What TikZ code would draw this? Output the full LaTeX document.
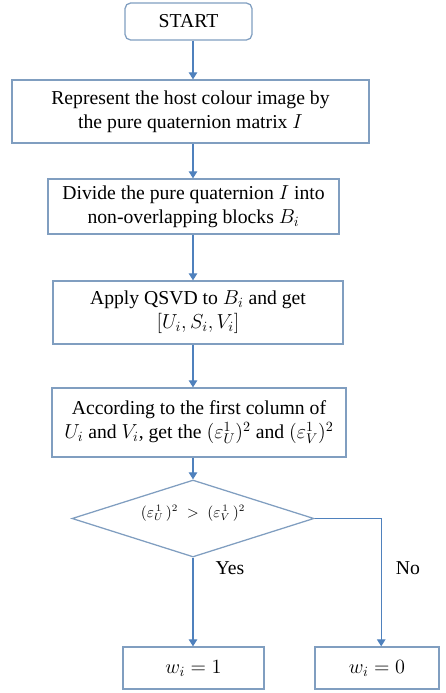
\documentclass[tikz,border=0pt]{standalone}
\usepackage{fontspec}
\setmainfont{Liberation Serif}
\usetikzlibrary{shapes.geometric,arrows.meta}
\newcommand\pxu{0.025cm}
\definecolor{boxline}{RGB}{128,158,192}
\definecolor{arrline}{RGB}{79,129,189}

\begin{document}
\begin{tikzpicture}[x=0.025cm, y=-0.025cm,
	procbox/.style={draw=boxline, line width=0.9pt, align=center, inner sep=0pt,
		font=\fontsize{14}{17}\selectfont},
	flowarrow/.style={draw=arrline, line width=0.9pt, -{Triangle[width=6pt,length=5pt]}},
	decision/.style={draw=boxline, line width=0.9pt, diamond, inner sep=0pt,
		minimum width=242*\pxu, minimum height=77*\pxu, font=\fontsize{10.5}{12}\selectfont}]
			%%%%% START %%%%%
			\useasboundingbox (0, 0) rectangle (446, 693);
			\coordinate (axis) at (193, 0);
			
			\node[procbox, rounded corners=4pt, minimum width=127*\pxu, minimum height=37*\pxu] (start) at (188.5, 21.5) {START};
			
			\node[procbox, minimum width=357*\pxu, minimum height=63*\pxu] (repr) at (190.5, 111.5)
				{Represent the host colour image by\\ the pure quaternion matrix $I$};
			\node[procbox, minimum width=291*\pxu, minimum height=55*\pxu] (divide) at (193.5, 206.5)
				{Divide the pure quaternion $I$ into\\ non-overlapping blocks $B_i$};
			\node[procbox, minimum width=290*\pxu, minimum height=63*\pxu] (qsvd) at (198, 312.5)
				{Apply QSVD to $B_i$ and get\\ $[U_i,S_i,V_i]$};
			\node[procbox, minimum width=294*\pxu, minimum height=69*\pxu] (column) at (199, 422.5)
				{According to the first column of\\ $U_i$ and $V_i$, get the $(\varepsilon_U^1)^2$ and $(\varepsilon_V^1)^2$};
			
			\node[decision] (test) at (193, 518.5)
				{\makebox[0pt]{\smash{\raisebox{1pt}{$(\varepsilon_U^{\,1}\,)^2 \;>\; (\varepsilon_V^{\,1}\,)^2$}}}};
			
			\node[procbox, minimum width=141*\pxu, minimum height=42*\pxu] (one) at (193.5, 668)
				{$w_i = 1$};
			\node[procbox, minimum width=124*\pxu, minimum height=42*\pxu] (zero) at (377, 668)
				{$w_i = 0$};
			
			\draw[flowarrow] (start.south -| axis) -- (axis |- repr.north);
			\draw[flowarrow] (repr.south -| axis) -- (axis |- divide.north);
			\draw[flowarrow] (divide.south -| axis) -- (axis |- qsvd.north);
			\draw[flowarrow] (qsvd.south -| axis) -- (axis |- column.north);
			\draw[flowarrow] (column.south -| axis) -- (test.north);
			\draw[flowarrow] (test.south) -- (test.south |- one.north);
			\draw[flowarrow] (test.east) -| ([xshift=3pt]zero.north);
			
			\node[font=\fontsize{14}{16}\selectfont] (yes) at (230, 568) {Yes};
			\node[font=\fontsize{14}{16}\selectfont] (no) at (408, 568) {No};
			%%%%% END %%%%%
\end{tikzpicture}
\end{document}
